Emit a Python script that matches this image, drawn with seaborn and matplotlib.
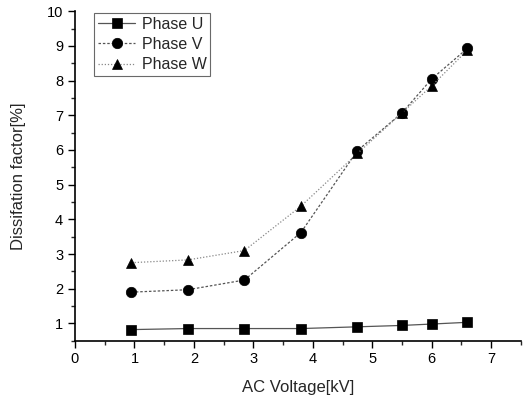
import matplotlib
matplotlib.use("Agg")
import matplotlib.pyplot as plt
import seaborn as sns
import pandas as pd
from matplotlib.ticker import MultipleLocator

voltage = [0.95, 1.9, 2.85, 3.8, 4.75, 5.5, 6.0, 6.6]
phase_u = [0.82, 0.85, 0.85, 0.85, 0.90, 0.94, 0.98, 1.03]
phase_v = [1.90, 1.97, 2.25, 3.62, 5.98, 7.07, 8.05, 8.93]
phase_w = [2.75, 2.83, 3.10, 4.38, 5.90, 7.07, 7.85, 8.88]
series_names = ["Phase U", "Phase V", "Phase W"]

sns.set_style("ticks")
plt.rcParams['font.family'] = ['Liberation Sans', 'DejaVu Sans']

fig = plt.figure(figsize=(5.23, 3.98), dpi=100)
ax = fig.add_axes([0.1434, 0.144, 0.8526, 0.8276])

styles = [
    dict(marker="s", color="#555555", lw=0.9, dashes=None),
    dict(marker="o", color="#555555", lw=0.9, dashes=(2, 1.5)),
    dict(marker="^", color="#888888", lw=0.9, dashes=(1, 1.5)),
]
for name, vals, st in zip(series_names, [phase_u, phase_v, phase_w], styles):
    df = pd.DataFrame({"x": voltage, "y": vals})
    sns.lineplot(data=df, x="x", y="y", ax=ax, label=name,
                 color=st["color"], lw=st["lw"], marker=st["marker"],
                 markersize=7.5, markerfacecolor="black",
                 markeredgecolor="black", markeredgewidth=0.5)
    l = ax.get_lines()[-1]
    if st["dashes"] is not None:
        l.set_dashes(st["dashes"])

ax.set_xlim(0, 7.5)
ax.set_ylim(0.5, 10)
ax.xaxis.set_major_locator(MultipleLocator(1))
ax.xaxis.set_minor_locator(MultipleLocator(0.5))
ax.yaxis.set_major_locator(MultipleLocator(1))
ax.yaxis.set_minor_locator(MultipleLocator(0.5))
ax.tick_params(which="major", direction="out", length=5, width=1, labelsize=10.5, colors="black")
ax.tick_params(which="minor", direction="out", length=3, width=1)
for s in ["top", "right"]:
    ax.spines[s].set_visible(False)
for s in ["left", "bottom"]:
    ax.spines[s].set_linewidth(1.2)
    ax.spines[s].set_color("black")

ax.set_xlabel("AC Voltage[kV]", fontsize=12, labelpad=10)
ax.set_ylabel("Dissifation factor[%]", fontsize=12, labelpad=15)

leg = ax.legend(loc="upper left", bbox_to_anchor=(0.04, 1.0), frameon=True,
                fancybox=False, edgecolor="#444444", fontsize=11.5,
                handlelength=2.3, handletextpad=0.4, borderpad=0.25,
                labelspacing=0.32, borderaxespad=0.1)
leg.get_frame().set_linewidth(0.8)

fig.savefig("out.png", dpi=100)
